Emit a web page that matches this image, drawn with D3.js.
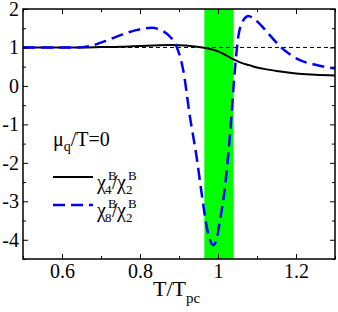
<!DOCTYPE html>
<html>
<head>
<meta charset="utf-8">
<script src="https://cdn.jsdelivr.net/npm/d3@7"></script>
<style>
  body { margin: 0; background: #fff; }
</style>
</head>
<body>
<script>
// chi4/chi2 (solid black)
const tChi4 = [0.5, 0.6, 0.65, 0.7, 0.75, 0.8, 0.85, 0.88, 0.9, 0.93, 0.96, 0.98, 1.0, 1.02, 1.04, 1.06, 1.08, 1.1, 1.125, 1.15, 1.17, 1.2, 1.25, 1.3];
const chi4 = [1.0, 1.0, 1.0, 1.01, 1.02, 1.04, 1.06, 1.065, 1.06, 1.04, 1.0, 0.96, 0.9, 0.8, 0.69, 0.6, 0.54, 0.48, 0.43, 0.39, 0.36, 0.32, 0.29, 0.27];

// chi8/chi2 (dashed blue)
const tChi8 = [0.5, 0.6, 0.64, 0.68, 0.72, 0.75, 0.79, 0.83, 0.86, 0.877, 0.894, 0.911, 0.928, 0.945, 0.958, 0.971, 0.98, 0.988, 0.996, 1.005, 1.018, 1.031, 1.044, 1.052, 1.065, 1.078, 1.09, 1.11, 1.125, 1.16, 1.21, 1.25, 1.3];
const chi8 = [1.0, 1.0, 1.0, 1.06, 1.2, 1.32, 1.45, 1.51, 1.42, 1.28, 1.02, 0.4, -0.8, -1.84, -2.79, -3.66, -4.02, -4.14, -4.0, -3.5, -2.62, -1.23, 0.5, 1.28, 1.71, 1.82, 1.76, 1.58, 1.41, 1.02, 0.67, 0.55, 0.45];

const pcBand = [0.965, 1.04]; // green crossover band
const xTicks = [0.6, 0.8, 1.0, 1.2];
const xMinor = [0.5, 0.7, 0.9, 1.1, 1.3];
const yTicks = [2, 1, 0, -1, -2, -3, -4];
const yMinor = [1.5, 0.5, -0.5, -1.5, -2.5, -3.5, -4.5];

const FONT = '"Liberation Serif", "DejaVu Serif", serif';
const width = 338, height = 312;
const mLeft = 23, mRight = 335, mTop = 9, mBottom = 259;

const svg = d3.select("body").append("svg")
    .attr("width", width)
    .attr("height", height)
    .style("font-family", FONT);

const x = d3.scaleLinear().domain([0.5, 1.3]).range([mLeft, mRight]);
const y = d3.scaleLinear().domain([-4.5, 2]).range([mBottom, mTop]);

// green band
svg.append("rect")
    .attr("x", x(pcBand[0]))
    .attr("y", mTop)
    .attr("width", x(pcBand[1]) - x(pcBand[0]))
    .attr("height", mBottom - mTop)
    .attr("fill", "#00ff00");

// reference line at 1
svg.append("line")
    .attr("x1", mLeft).attr("x2", mRight)
    .attr("y1", y(1)).attr("y2", y(1))
    .attr("stroke", "#000")
    .attr("stroke-width", 1)
    .attr("stroke-dasharray", "4,3");

const line = d3.line()
    .x(d => x(d[0]))
    .y(d => y(d[1]))
    .curve(d3.curveMonotoneX);

svg.append("path")
    .datum(d3.zip(tChi4, chi4))
    .attr("d", line)
    .attr("fill", "none")
    .attr("stroke", "#000")
    .attr("stroke-width", 2);

svg.append("path")
    .datum(d3.zip(tChi8, chi8))
    .attr("d", line)
    .attr("fill", "none")
    .attr("stroke", "#0000ff")
    .attr("stroke-width", 2.5)
    .attr("stroke-dasharray", "12,6");

// axes - ticks point inward on all four sides
function styleAxis(g) {
    g.attr("font-family", null);
    g.select(".domain").remove();
    g.selectAll("line").attr("stroke", "#000").attr("stroke-width", 1);
    g.selectAll("text").attr("fill", "#000").attr("font-size", 20)
        .style("font-family", FONT);
}

svg.append("g").attr("transform", `translate(0,${mBottom})`)
    .call(d3.axisBottom(x).tickValues(xTicks).tickSize(-5).tickPadding(5).tickFormat(d3.format("~g")))
    .call(styleAxis);
svg.append("g").attr("transform", `translate(0,${mBottom})`)
    .call(d3.axisBottom(x).tickValues(xMinor).tickSize(-3).tickFormat(""))
    .call(styleAxis);
svg.append("g").attr("transform", `translate(0,${mTop})`)
    .call(d3.axisTop(x).tickValues(xTicks).tickSize(-5).tickFormat(""))
    .call(styleAxis);
svg.append("g").attr("transform", `translate(0,${mTop})`)
    .call(d3.axisTop(x).tickValues(xMinor).tickSize(-3).tickFormat(""))
    .call(styleAxis);

svg.append("g").attr("transform", `translate(${mLeft},0)`)
    .call(d3.axisLeft(y).tickValues(yTicks).tickSize(-5).tickPadding(4).tickFormat(d => String(d)))
    .call(styleAxis);
svg.append("g").attr("transform", `translate(${mLeft},0)`)
    .call(d3.axisLeft(y).tickValues(yMinor).tickSize(-3).tickFormat(""))
    .call(styleAxis);
svg.append("g").attr("transform", `translate(${mRight},0)`)
    .call(d3.axisRight(y).tickValues(yTicks).tickSize(-5).tickFormat(""))
    .call(styleAxis);
svg.append("g").attr("transform", `translate(${mRight},0)`)
    .call(d3.axisRight(y).tickValues(yMinor).tickSize(-3).tickFormat(""))
    .call(styleAxis);

// frame
svg.append("rect")
    .attr("x", mLeft).attr("y", mTop)
    .attr("width", mRight - mLeft).attr("height", mBottom - mTop)
    .attr("fill", "none")
    .attr("stroke", "#000")
    .attr("stroke-width", 1.5);

// x axis title T/Tpc
const xt = svg.append("text")
    .attr("x", 153).attr("y", 296)
    .attr("font-size", 22);
xt.append("tspan").text("T/T");
xt.append("tspan").attr("font-size", 15).attr("dy", 7).text("pc");

// legend
const mu = svg.append("text").attr("x", 53).attr("y", 146).attr("font-size", 20);
mu.append("tspan").text("μ");
mu.append("tspan").attr("font-size", 14).attr("dy", 5).text("q");
mu.append("tspan").attr("dy", -5).text("/T=0");

// chi^B_n / chi^B_2 with stacked super/subscripts
function chiRatio(px, py, n) {
    const g = svg.append("g");
    const txt = (dx, dy, s, fs) => g.append("text")
        .attr("x", px + dx).attr("y", py + dy).attr("font-size", fs).text(s);
    txt(0, 0, "χ", 20);
    txt(11, -9, "B", 13);
    txt(8, 5, n, 13);
    txt(15, 0, "/", 20);
    txt(20, 0, "χ", 20);
    txt(31, -9, "B", 13);
    txt(29, 5, "2", 13);
}

svg.append("line")
    .attr("x1", 53).attr("x2", 93).attr("y1", 177).attr("y2", 177)
    .attr("stroke", "#000").attr("stroke-width", 2);
chiRatio(97, 189, "4");

svg.append("line")
    .attr("x1", 53).attr("x2", 93).attr("y1", 205).attr("y2", 205)
    .attr("stroke", "#0000ff").attr("stroke-width", 2.5)
    .attr("stroke-dasharray", "12,6");
chiRatio(97, 217, "8");
</script>
</body>
</html>
